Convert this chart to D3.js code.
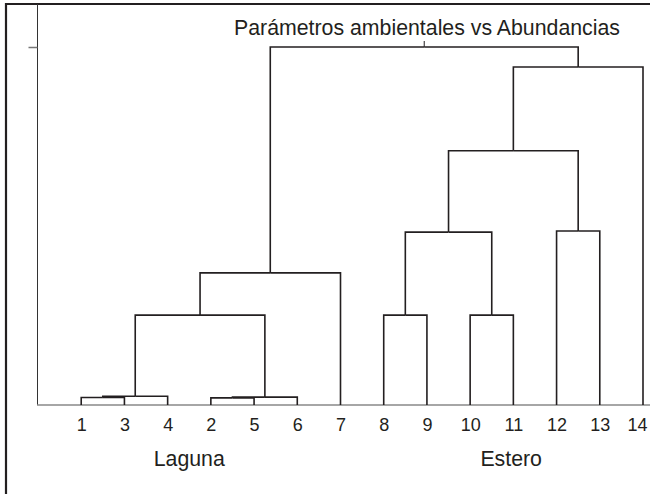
<!DOCTYPE html>
<html>
<head>
<meta charset="utf-8">
<script src="https://cdn.jsdelivr.net/npm/d3@7"></script>
<style>
  html, body { margin: 0; padding: 0; background: #fff; overflow: hidden; }
  svg { display: block; font-family: "Liberation Sans", Arial, sans-serif; }
</style>
</head>
<body>
<svg id="chart" width="650" height="494"></svg>
<script>
// ---- data ----
const title = "Parámetros ambientales vs Abundancias";
const leafOrder = ["1", "3", "4", "2", "5", "6", "7", "8", "9", "10", "11", "12", "13", "14"];
// merges: [left child, right child, height (relative distance, root = 100)]
const mergeLeft  = ["1",  "m1", "2",  "m3", "m2", "m5", "8",  "10", "m7", "12", "m9", "m11", "m6"];
const mergeRight = ["3",  "4",  "5",  "6",  "m4", "7",  "9",  "11", "m8", "13", "m10", "14", "m12"];
const mergeHeight = [2.1, 2.45, 2.0, 2.2, 25.1, 36.9, 25.1, 25.1, 48.3, 48.6, 71.0, 94.4, 100];
const groupLabels = ["Laguna", "Estero"];
const groupCenters = [3.5, 10.95]; // in leaf-position units

// ---- build tree ----
const nodes = {};
leafOrder.forEach(id => nodes[id] = { id, height: 0, children: null });
mergeLeft.forEach((l, i) => {
  nodes["m" + (i + 1)] = { id: "m" + (i + 1), height: mergeHeight[i], children: [nodes[l], nodes[mergeRight[i]]] };
});
const rootData = nodes["m" + mergeLeft.length];
const root = d3.hierarchy(rootData, d => d.children);

// ---- scales ----
const svg = d3.select("#chart");
const x = d3.scaleLinear().domain([0, 14]).range([38, 643]);
const y = d3.scaleLinear().domain([0, 100]).range([405, 47]);

// positions
root.eachAfter(n => {
  if (!n.children) n.px = x(leafOrder.indexOf(n.data.id) + 1);
  else n.px = d3.mean(n.children, c => c.px);
  n.py = y(n.data.height);
});

const ink = "#231f20";

// frame (only left + top borders are visible in the crop)
svg.append("path").attr("d", "M6,494V4H650")
  .attr("fill", "none").attr("stroke", ink).attr("stroke-width", 2.2);

// y axis
svg.append("line").attr("x1", 37.5).attr("x2", 37.5).attr("y1", 4).attr("y2", 405)
  .attr("stroke", "#333").attr("stroke-width", 1);
const yAx = svg.append("g").attr("transform", "translate(37.5,0)")
  .call(d3.axisLeft(y).tickValues([100]).tickSize(9).tickFormat(""));
yAx.select(".domain").remove();
yAx.selectAll(".tick line").attr("stroke", "#777").attr("stroke-width", 1.5);

// x axis
const xAx = svg.append("g").attr("transform", "translate(0,405)")
  .call(d3.axisBottom(x).tickValues(d3.range(1, 15)).tickSize(0).tickPadding(13)
    .tickFormat(d => leafOrder[d - 1]));
xAx.select(".domain").attr("stroke", "#888").attr("stroke-width", 1.6)
  .attr("d", "M37,0H660");
xAx.selectAll(".tick text").attr("font-size", 18).attr("fill", ink)
  .attr("font-family", "'Liberation Sans', Arial, sans-serif")
  .attr("dx", d => d === 14 ? -6 : 0);

// dendrogram links
const g = svg.append("g").attr("fill", "none").attr("stroke", ink).attr("stroke-width", 1.6);
root.each(n => {
  if (!n.children) return;
  n.children.forEach(c => {
    g.append("path").attr("d", `M${c.px},${c.py}V${n.py}H${n.px}`);
  });
});
// root stem
g.append("path").attr("d", `M${root.px},${root.py}V${root.py - 6}`).attr("stroke-width", 1);

// title
svg.append("text").attr("x", 427).attr("y", 35).attr("text-anchor", "middle")
  .attr("font-size", 21.3).attr("fill", ink).text(title);

// group labels
svg.selectAll(".grp").data(groupLabels).join("text")
  .attr("class", "grp")
  .attr("x", (d, i) => x(groupCenters[i]))
  .attr("y", 466)
  .attr("text-anchor", "middle")
  .attr("font-size", 21.3).attr("fill", ink)
  .text(d => d);
</script>
</body>
</html>
